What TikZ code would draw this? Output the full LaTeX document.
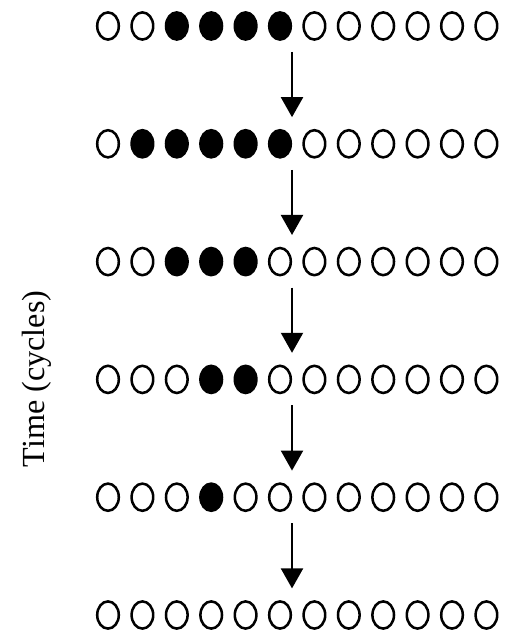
\documentclass[tikz,border=0pt]{standalone}
\usepackage{fontspec}
\setmainfont{Liberation Serif}
\usepackage{tikz}
\usetikzlibrary{arrows.meta}

\tikzset{
    cell/.style={draw=black, line width=1.8pt},
    flow/.style={line width=1.5pt, -{Triangle[length=0.5cm, width=0.55cm]}}
}

\begin{document}
\begin{tikzpicture}
    \useasboundingbox (0,0) rectangle (12.65,15.775);
    % Draw the rows of cells, filled from \lo to \hi
    \foreach \r/\lo/\hi in {1/2/5, 2/1/5, 3/2/4, 4/3/4, 5/3/3, 6/20/-1} {
        \pgfmathsetmacro{\y}{15.125-(\r-1)*2.945}
        \foreach \i in {0,...,11} {
            \ifnum\i<\lo \def\fc{white}\else\ifnum\i>\hi \def\fc{white}\else\def\fc{black}\fi\fi
            \coordinate (c\r-\i) at (2.7+\i*0.86, \y);
            \draw[cell, fill=\fc] (c\r-\i) ellipse [x radius=0.27, y radius=0.34];
        }
    }
    % Draw the arrows between the rows
    \foreach \r [count=\n from 2] in {1,...,5} {
        \coordinate (s\r) at ([yshift=-0.65cm] c\r-5 -| 7.3,0);
        \coordinate (e\r) at ([yshift=0.665cm] c\n-5 -| 7.3,0);
        \draw[flow] (s\r) -- (e\r);
    }
    % Time axis label
    \node[rotate=90, font=\fontsize{22.9}{27}\selectfont] (time) at (0.925,6.3) {Time (cycles)};
\end{tikzpicture}
\end{document}
